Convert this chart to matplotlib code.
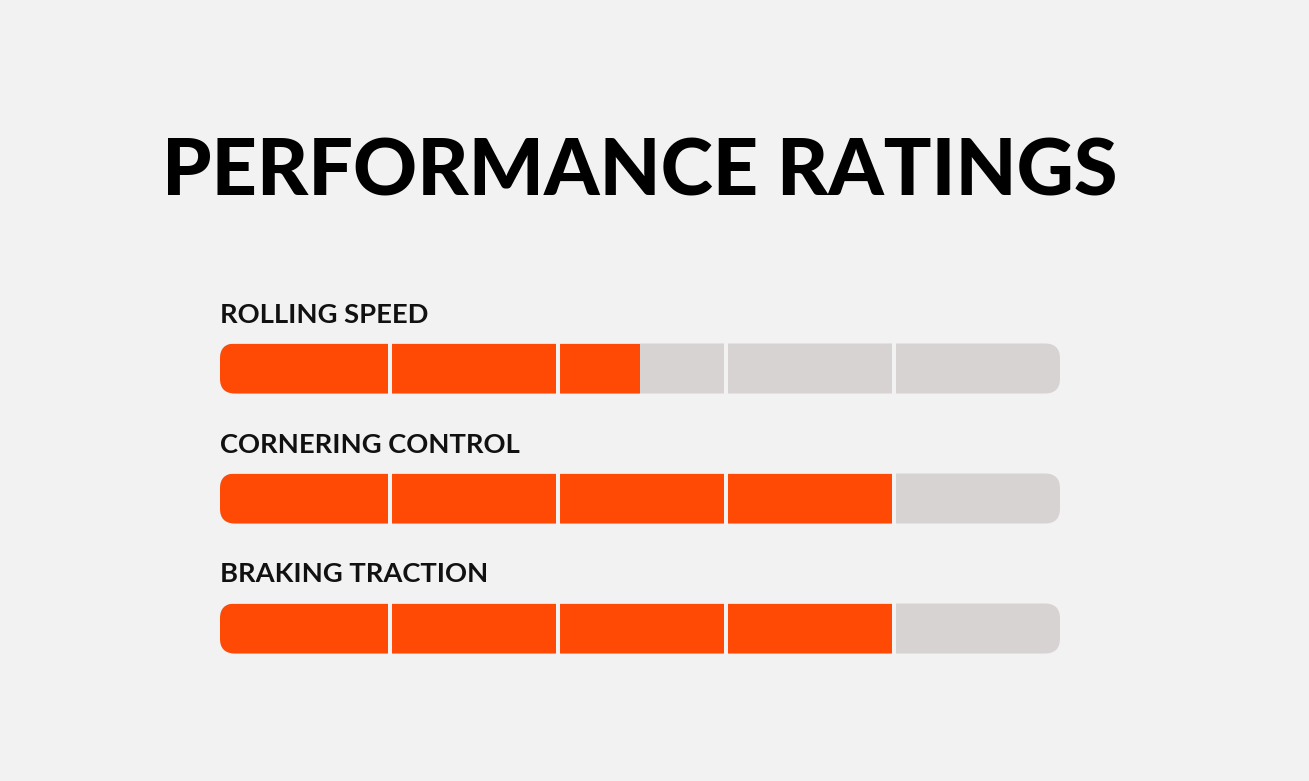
import matplotlib
matplotlib.use('Agg')
import matplotlib.pyplot as plt
from matplotlib.patches import FancyBboxPatch, Rectangle

# data
title = "PERFORMANCE RATINGS"
labels = ["ROLLING SPEED", "CORNERING CONTROL", "BRAKING TRACTION"]
ratings = [2.5, 4, 4]
max_rating = 5

bg = "#f2f2f2"
fill = "#ff4a05"
track = "#d7d3d2"

W, H = 1309, 781
fig = plt.figure(figsize=(W / 100, H / 100), dpi=100, facecolor=bg)

# axes: x in rating units, y in row units (130 px per row)
left, right = 220, 1060
top, bottom = 303.5, 693.5
ax = fig.add_axes([left / W, 1 - bottom / H, (right - left) / W, (bottom - top) / H])
ax.set_facecolor(bg)
ax.set_xlim(0, max_rating)
ax.set_ylim(len(labels) - 0.5, -0.5)
ax.axis('off')

px_x = max_rating / (right - left)
px_y = len(labels) / (bottom - top)
bar_h = 50 * px_y
radius = 15 * px_x
aspect = px_y / px_x

for i, (lab, val) in enumerate(zip(labels, ratings)):
    y0 = i - bar_h / 2
    trk = FancyBboxPatch((0, y0), max_rating, bar_h,
                         boxstyle="round,pad=0,rounding_size={}".format(radius),
                         mutation_aspect=aspect, fc=track, ec='none')
    ax.add_patch(trk)
    bar = Rectangle((0, y0), val, bar_h, fc=fill, ec='none')
    ax.add_patch(bar)
    bar.set_clip_path(trk)
    # gaps between segments sit just right of each step
    for k in range(1, max_rating):
        xg = k + 2 * px_x
        ax.plot([xg, xg], [y0 - 0.01, y0 + bar_h + 0.01], color=bg, lw=2.9,
                solid_capstyle='butt')
    ax.text(0, y0 - 21 * px_y, lab, fontsize=19.7, fontweight='bold',
            family=['Lato', 'DejaVu Sans'], va='baseline', ha='left', color='#111111')

fig.text((left + right) / 2 / W, 1 - 195 / H, title, fontsize=57, fontweight='black',
         family=['Lato', 'DejaVu Sans'], ha='center', va='baseline', color='black')

fig.savefig('out.png', dpi=100, facecolor=bg)
